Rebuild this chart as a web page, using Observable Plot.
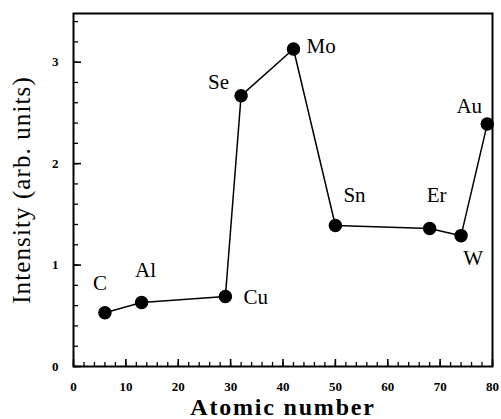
<!DOCTYPE html>
<html>
<head>
<meta charset="utf-8">
<script src="https://cdn.jsdelivr.net/npm/d3@7"></script>
<script src="https://cdn.jsdelivr.net/npm/@observablehq/plot@0.6"></script>
<style>
  html, body { margin: 0; padding: 0; background: #fff; }
  #chart svg { font-family: "Liberation Serif", "DejaVu Serif", serif; }
  g[aria-label="x-axis label"] text { font-size: 24px; font-weight: bold; letter-spacing: 1.8px; }
  g[aria-label="y-axis label"] text { font-size: 25px; font-weight: normal; letter-spacing: 1.1px; }
</style>
</head>
<body>
<div id="chart"></div>
<script>
// Data
const elements = ["C", "Al", "Cu", "Se", "Mo", "Sn", "Er", "W", "Au"];
const atomicNumber = [6, 13, 29, 32, 42, 50, 68, 74, 79];
const intensity = [0.53, 0.63, 0.69, 2.67, 3.13, 1.39, 1.36, 1.29, 2.39];

const xMajorTicks = [0, 10, 20, 30, 40, 50, 60, 70, 80];
const xMinorTicks = d3.range(0, 81, 2);
const yMajorTicks = [0, 1, 2, 3];
const yMinorTicks = d3.range(0, 3.41, 0.2);

const data = elements.map((el, i) => ({el, z: atomicNumber[i], v: intensity[i]}));

// label offsets (layout only)
const labelPlace = {
  C:  {dx: -5, dy: -29, anchor: "middle"},
  Al: {dx: 4,  dy: -32, anchor: "middle"},
  Cu: {dx: 18, dy: 1,   anchor: "start"},
  Se: {dx: -12, dy: -13, anchor: "end"},
  Mo: {dx: 13, dy: -3,  anchor: "start"},
  Sn: {dx: 8,  dy: -30, anchor: "start"},
  Er: {dx: 7,  dy: -33, anchor: "middle"},
  W:  {dx: 12, dy: 23,  anchor: "middle"},
  Au: {dx: -18, dy: -18, anchor: "middle"}
};

const labelMarks = data.map(d => Plot.text([d], {
  x: "z", y: "v", text: "el",
  dx: labelPlace[d.el].dx, dy: labelPlace[d.el].dy,
  textAnchor: labelPlace[d.el].anchor,
  fontSize: 21, fill: "black"
}));

const chart = Plot.plot({
  width: 501,
  height: 419,
  marginTop: 13,
  marginBottom: 53,
  marginLeft: 73,
  marginRight: 9,
  style: {background: "white", color: "black", fontFamily: "Liberation Serif, serif"},
  x: {domain: [0, 80]},
  y: {domain: [0, 3.48]},
  marks: [
    // inward ticks: outward tick shifted back inside the frame
    Plot.axisX({ticks: xMinorTicks, tickSize: 4, dy: -4, text: null, label: null, stroke: "black", strokeWidth: 1.3}),
    Plot.axisX({ticks: xMajorTicks, tickSize: 7, dy: -7, text: null, label: null, stroke: "black", strokeWidth: 1.6}),
    Plot.axisY({ticks: yMinorTicks, tickSize: 5, dx: 5, text: null, label: null, stroke: "black", strokeWidth: 1.3}),
    Plot.axisY({ticks: yMajorTicks, tickSize: 8, dx: 8, text: null, label: null, stroke: "black", strokeWidth: 1.6}),
    Plot.frame({stroke: "black", strokeWidth: 2}),
    Plot.axisX({ticks: xMajorTicks, tickSize: 0, tickPadding: 15, fontSize: 13, fontWeight: "bold",
                tickFormat: d3.format("d"),
                label: "Atomic number", labelArrow: "none", labelAnchor: "center", labelOffset: 48}),
    Plot.axisY({ticks: yMajorTicks, tickSize: 0, tickPadding: 15, fontSize: 13, fontWeight: "bold",
                tickFormat: d3.format("d"),
                label: "Intensity (arb. units)", labelArrow: "none", labelAnchor: "center", labelOffset: 61}),
    Plot.line(data, {x: "z", y: "v", stroke: "black", strokeWidth: 1.5}),
    Plot.dot(data, {x: "z", y: "v", r: 6, fill: "black", stroke: "black"}),
    ...labelMarks
  ]
});

document.getElementById("chart").appendChild(chart);
</script>
</body>
</html>
